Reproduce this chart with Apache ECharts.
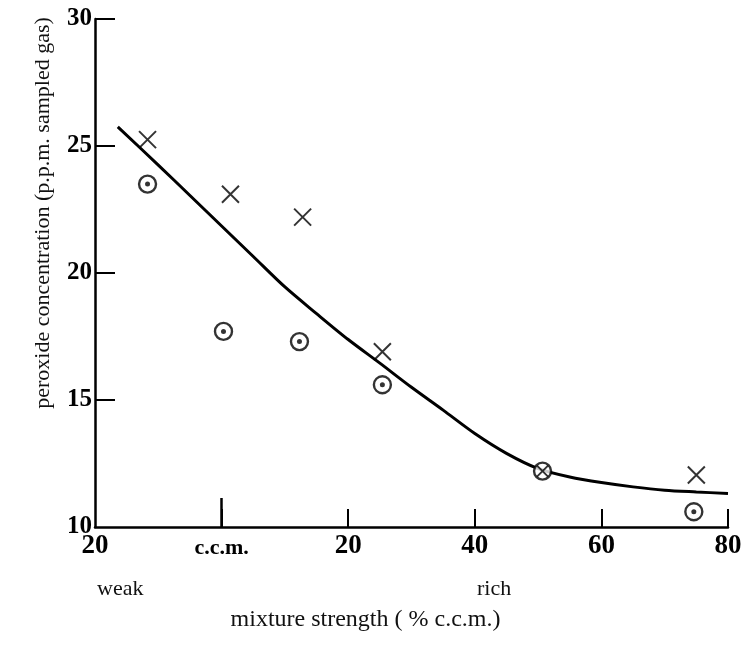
<!DOCTYPE html>
<html>
<head>
<meta charset="utf-8">
<script src="https://cdn.jsdelivr.net/npm/echarts@6/dist/echarts.min.js"></script>
<style>
  html, body { margin: 0; padding: 0; background: #fff; }
  #chart { width: 746px; height: 645px; }
</style>
</head>
<body>
<div id="chart"></div>
<script>
// Mixture strength in % relative to c.c.m. (negative = weak side)
const crossX = [-11.7, 1.4, 12.8, 25.4, 75.0];
const crossY = [25.25, 23.1, 22.2, 16.9, 12.05];

const ringX = [-11.7, 0.3, 12.3, 25.4, 74.6];
const ringY = [23.5, 17.7, 17.3, 15.6, 10.6];

// point where both kinds of measurement coincide
const bothX = [50.7];
const bothY = [12.2];

// fitted curve
const curveX = [-16.4, -10, -5, 0, 5, 10, 15, 20, 25, 30, 35, 40, 45, 50, 55, 60, 65, 70, 75, 80];
const curveY = [25.75, 24.25, 23.05, 21.85, 20.65, 19.45, 18.4, 17.38, 16.45, 15.5, 14.6, 13.68, 12.9, 12.3, 11.97, 11.75, 11.58, 11.45, 11.38, 11.32];

const xTicks = [0, 20, 40, 60, 80];
const yTicks = [15, 20, 25, 30];

const pairs = (xs, ys) => xs.map((x, i) => [x, ys[i]]);

const FONT = 'Liberation Serif';
const crossPath = 'path://M0,0L10,10M10,0L0,10';

const chart = echarts.init(document.getElementById('chart'), null, { renderer: 'canvas' });

chart.setOption({
  backgroundColor: '#ffffff',
  animation: false,
  grid: { left: 95, right: 18, top: 19, bottom: 118, containLabel: false },
  xAxis: [{
    type: 'value',
    min: -20, max: 80, interval: 20,
    splitLine: { show: false },
    axisLine: { show: true, onZero: false, lineStyle: { color: '#000', width: 2.5 } },
    axisTick: { show: true, inside: true, length: 18, customValues: xTicks, lineStyle: { color: '#000', width: 2 } },
    axisLabel: {
      show: true, margin: 6, color: '#000',
      fontFamily: FONT, fontWeight: 'bold', fontSize: 27,
      formatter: v => v === -20 ? '20' : (v === 0 ? '{c|c.c.m.}' : String(v)),
      rich: { c: { fontFamily: FONT, fontWeight: 'bold', fontSize: 22, color: '#000', padding: [4, 0, 0, 0] } }
    },
    name: 'mixture strength ( % c.c.m.)',
    nameLocation: 'middle',
    nameGap: 81,
    nameTextStyle: { fontFamily: FONT, fontSize: 24, color: '#111', padding: [0, 92, 0, 0] }
  }, {
    // longer mark at c.c.m.
    type: 'value',
    min: -20, max: 80, interval: 20,
    position: 'bottom',
    splitLine: { show: false },
    axisLine: { show: false, onZero: false },
    axisLabel: { show: false },
    axisTick: { show: true, inside: true, length: 29, customValues: [0], lineStyle: { color: '#000', width: 2.5 } }
  }],
  yAxis: {
    type: 'value',
    min: 10, max: 30, interval: 5,
    splitLine: { show: false },
    axisLine: { show: true, onZero: false, lineStyle: { color: '#000', width: 2.5 } },
    axisTick: { show: true, inside: true, length: 20, customValues: yTicks, lineStyle: { color: '#000', width: 2 } },
    axisLabel: {
      show: true, margin: 3, color: '#000',
      fontFamily: FONT, fontWeight: 'bold', fontSize: 25
    },
    name: 'peroxide concentration (p.p.m. sampled gas)',
    nameLocation: 'middle',
    nameGap: 41,
    nameRotate: 90,
    nameTextStyle: { fontFamily: FONT, fontSize: 22, color: '#111', padding: [0, 0, 0, 120] }
  },
  graphic: [
    { type: 'text', left: 97, top: 578, style: { text: 'weak', font: '22px "Liberation Serif"', fill: '#111' } },
    { type: 'text', left: 477, top: 578, style: { text: 'rich', font: '22px "Liberation Serif"', fill: '#111' } }
  ],
  series: [
    {
      name: 'curve', type: 'line', xAxisIndex: 0,
      data: pairs(curveX, curveY), smooth: 0.3, showSymbol: false, symbol: 'none',
      lineStyle: { color: '#000', width: 3 }, z: 2
    },
    {
      name: 'crosses', type: 'scatter', xAxisIndex: 0,
      data: pairs(crossX, crossY), symbol: crossPath, symbolSize: 17,
      itemStyle: { color: 'transparent', borderColor: '#000', borderWidth: 2 }, z: 3
    },
    {
      name: 'rings', type: 'scatter', xAxisIndex: 0,
      data: pairs(ringX, ringY).concat(pairs(bothX, bothY)), symbol: 'circle', symbolSize: 17,
      itemStyle: { color: '#fff', borderColor: '#000', borderWidth: 2.4 }, z: 3
    },
    {
      name: 'ring centres', type: 'scatter', xAxisIndex: 0,
      data: pairs(ringX, ringY), symbol: 'circle', symbolSize: 5,
      itemStyle: { color: '#000' }, z: 4
    },
    {
      name: 'coincident', type: 'scatter', xAxisIndex: 0,
      data: pairs(bothX, bothY), symbol: crossPath, symbolSize: 11,
      itemStyle: { color: 'transparent', borderColor: '#000', borderWidth: 2 }, z: 4
    }
  ]
});
</script>
</body>
</html>
